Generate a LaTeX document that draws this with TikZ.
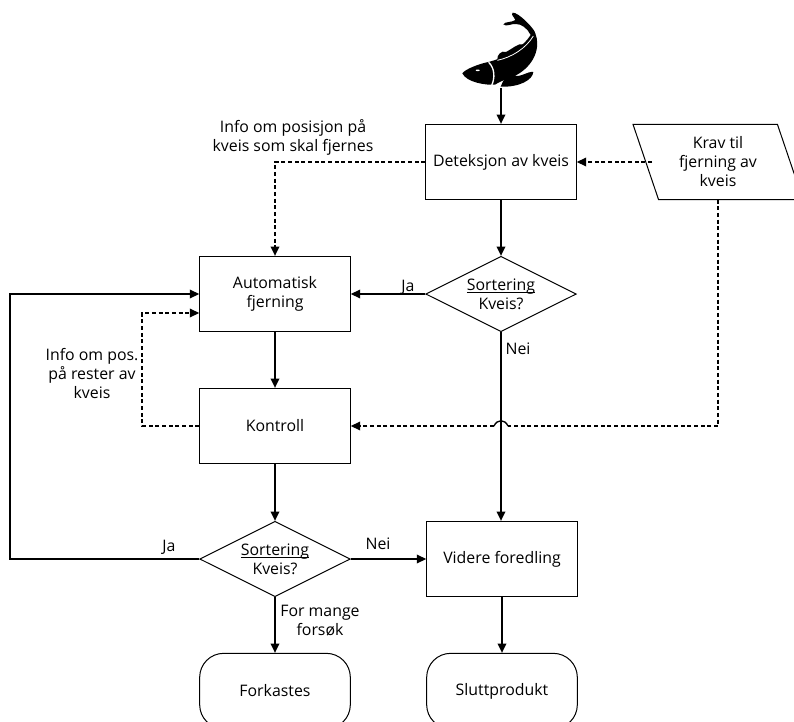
\documentclass[tikz,border=0pt]{standalone}
\usepackage{fontspec}
\setmainfont{Open Sans}
\usetikzlibrary{shapes.geometric,arrows.meta}
\newcommand{\ulsort}{\underline{\smash{Sortering}}\rule[-3pt]{0pt}{12pt}}
\tikzset{
  txt/.style={font=\fontsize{11.9}{14.25}\selectfont,align=center,inner sep=0pt},
  procbox/.style={draw,line width=.75pt,minimum width=113pt,minimum height=56.5pt,inner sep=0pt,txt},
  termbox/.style={procbox,rounded corners=18pt,minimum height=56.5pt},
  decis/.style={draw,diamond,aspect=2,line width=.75pt,minimum width=113pt,minimum height=56.5pt,inner sep=0pt,txt},
  inpbox/.style={draw,trapezium,trapezium left angle=117,trapezium right angle=63,trapezium stretches body,line width=.75pt,minimum width=127.5pt,minimum height=56.5pt,inner sep=0pt,txt},
  flow/.style={line width=1pt,-{Triangle[length=7pt,width=6.5pt]}},
  plainflow/.style={line width=1pt},
  dashes/.style={dash pattern=on 3pt off 2pt},
  info/.style={flow,dashes},
  lbl/.style={txt}
}
\begin{document}
\begin{tikzpicture}[x=.75pt,y=-.75pt]
\useasboundingbox (0,0) rectangle (794,722);
\clip (0,0) rectangle (794,722);
\node[procbox] (det) at (501,162) {Deteksjon av kveis};
\node[inpbox] (krav) at (718,162) {Krav til\\fjerning av\\kveis};
\node[decis] (s1) at (501,294) {};
\node[lbl] (s1t) at (501,294.5) {\ulsort\\Kveis?};
\node[procbox] (auto) at (275,294) {Automatisk\\fjerning};
\node[procbox] (kon) at (275,426) {Kontroll};
\node[decis] (s2) at (275,559) {};
\node[lbl] (s2t) at (275,559.5) {\ulsort\\Kveis?};
\node[procbox] (vid) at (502,559) {Videre foredling};
\node[termbox] (fork) at (275,691) {Forkastes};
\node[termbox] (slutt) at (502,691) {Sluttprodukt};
% fish
\begin{scope}[shift={(440,0)},x=.25pt,y=-.25pt]
\fill[black] (67,220) .. controls (75,208) and (115,192) .. (145,186)
  .. controls (200,172) and (250,140) .. (272,105)
  .. controls (262,85) and (245,72) .. (228,72)
  .. controls (215,70) and (198,82) .. (190,73)
  .. controls (195,64) and (215,68) .. (226,60)
  .. controls (222,50) and (212,45) .. (218,38)
  .. controls (235,36) and (285,88) .. (286,100)
  .. controls (302,140) and (285,195) .. (228,226)
  .. controls (205,238) and (190,238) .. (165,254)
  .. controls (140,256) and (80,248) .. (67,220) -- cycle;
\fill[black] (172,179) .. controls (170,165) and (185,150) .. (198,156)
  .. controls (215,148) and (235,128) .. (250,133)
  .. controls (254,150) and (215,170) .. (172,179) -- cycle;
\fill[black] (182,260) .. controls (188,240) and (205,220) .. (222,224)
  .. controls (235,237) and (265,212) .. (280,216)
  .. controls (278,240) and (238,262) .. (182,260) -- cycle;
\draw[white,line width=1pt] (146,187) .. controls (165,205) and (165,235) .. (155,256);
\draw[white,line width=.6pt] (172,181) .. controls (215,172) and (258,145) .. (280,108);
\fill[white] (113,211) ellipse (6 and 2.5);
\end{scope}
\coordinate (fishfoot) at (501,88);
\coordinate (kj) at (718,426);
\coordinate (kt) at (718,199.5);
\coordinate (kw) at (652,162);
\coordinate (jr) at (508,426);
\coordinate (jl) at (494,426);
\coordinate (loopb) at (10,559);
\coordinate (loopt) at (10,294);
\coordinate (infoc) at (275,162);
\coordinate (rb) at (142,426);
\coordinate (rt) at (142,313);
\coordinate (ain) at (auto.west |- rt);
\draw[flow] (fishfoot) -- (det);
\draw[flow] (det) -- (s1);
\draw[flow] (s1) -- (auto);
\draw[flow] (auto) -- (kon);
\draw[flow] (kon) -- (s2);
\draw[flow] (s1.south) -- (s1.south |- vid.north);
\draw[flow] (s2) -- (vid);
\draw[flow] (s2) -- (fork);
\draw[flow] (vid) -- (slutt);
\draw[flow] (s2.west) -- (loopb) -- (loopt) -- (auto.west);
\draw[info] (kw) -- (det.east);
\draw[info] (det.west) -- (infoc) -- (auto.north);
\draw[info] (kon.west) -- (rb) -- (rt) -- (ain);
\draw[plainflow,dashes] (kt) -- (kj) -- (jr);
\draw[plainflow] (jr) .. controls (505,419) and (497,419) .. (jl);
\draw[info] (jl) -- (kon.east);
\node[lbl] (t1) at (293,137) {Info om posisjon på\\kveis som skal fjernes};
\node[lbl] (t2) at (92,374) {Info om pos.\\på rester av\\kveis};
\node[lbl] (t3) at (408,287) {Ja};
\node[lbl] (t4) at (518,349) {Nei};
\node[lbl] (t5) at (169,547) {Ja};
\node[lbl] (t6) at (378,544) {Nei};
\node[lbl] (t7) at (320,621) {For mange\\forsøk};
\end{tikzpicture}
\end{document}
